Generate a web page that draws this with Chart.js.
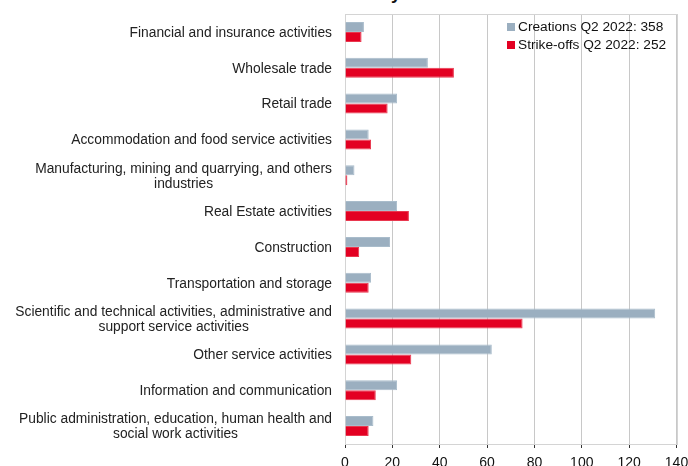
<!DOCTYPE html>
<html>
<head>
<meta charset="utf-8">
<script src="https://cdn.jsdelivr.net/npm/chart.js@4"></script>
<style>
    html, body { margin: 0; padding: 0; background: #fff; overflow: hidden; }
    #wrap { position: relative; width: 688px; height: 466px; }
    #title {
        position: absolute; left: 5px; top: -16px; margin: 0;
        font: bold 18px "Liberation Sans", Arial, sans-serif; line-height: 18px;
        color: #111; white-space: nowrap;
    }
    canvas { position: absolute; left: 0; top: 0; }
</style>
</head>
<body>
<div id="wrap">
    <div id="title">Creations and strike-offs of establishments by NACE</div>
    <canvas id="nace-chart" width="688" height="466"></canvas>
</div>
<script>
// Categories (multi-line labels as arrays)
const sectors = [
    ["Financial and insurance activities"],
    ["Wholesale trade"],
    ["Retail trade"],
    ["Accommodation and food service activities"],
    ["Manufacturing, mining and quarrying, and others", "industries"],
    ["Real Estate activities"],
    ["Construction"],
    ["Transportation and storage"],
    ["Scientific and technical activities, administrative and", "support service activities"],
    ["Other service activities"],
    ["Information and communication"],
    ["Public administration, education, human health and", "social work activities"],
];

// Series values
const creations = [8, 35, 22, 10, 4, 22, 19, 11, 131, 62, 22, 12];
const strikeOffs = [7, 46, 18, 11, 1, 27, 6, 10, 75, 28, 13, 10];

// Legend labels
const creationsLabel = "Creations Q2 2022: 358";
const strikeOffsLabel = "Strike-offs Q2 2022: 252";

// X axis ticks
const xMin = 0;
const xMax = 140;
const xStep = 20;

const FONT = '"Liberation Sans", Arial, sans-serif';
const BLUE_GREY = "#9bafc0";
const RED = "#e30022";

// Draws the framed plot area
const frame = {
    id: "frame",
    beforeDatasetsDraw(chart) {
        const { ctx, chartArea: a } = chart;
        ctx.save();
        ctx.strokeStyle = "#d4d4d4";
        ctx.lineWidth = 1;
        ctx.strokeRect(Math.round(a.left) + 0.5, Math.round(a.top) + 0.5,
            Math.round(a.right - a.left), Math.round(a.bottom - a.top));
        ctx.restore();
    },
};

// Category labels: lines centered to each other, block right aligned
const sectorLabels = {
    id: "sectorLabels",
    afterDraw(chart) {
        const { ctx } = chart;
        const y = chart.scales.y;
        const rightEdge = chart.chartArea.left - 13;
        ctx.save();
        ctx.font = "13.8px " + FONT;
        ctx.fillStyle = "#222";
        ctx.textAlign = "center";
        ctx.textBaseline = "middle";
        sectors.forEach((lines, i) => {
            const cy = y.getPixelForTick(i) + 1;
            const w = Math.max(...lines.map((l) => ctx.measureText(l).width));
            const cx = rightEdge - w / 2;
            const lh = 15;
            const y0 = cy - ((lines.length - 1) * lh) / 2;
            lines.forEach((l, k) => ctx.fillText(l, cx, y0 + k * lh));
        });
        ctx.restore();
    },
};

// Legend inside the plot, top right
const innerLegend = {
    id: "innerLegend",
    afterDraw(chart) {
        const { ctx } = chart;
        const items = [
            { text: creationsLabel, color: BLUE_GREY, y: 27 },
            { text: strikeOffsLabel, color: RED, y: 45 },
        ];
        ctx.save();
        ctx.font = "13.7px " + FONT;
        ctx.textBaseline = "middle";
        ctx.textAlign = "left";
        items.forEach((it) => {
            ctx.fillStyle = it.color;
            ctx.fillRect(507, it.y - 4, 8, 8);
            ctx.fillStyle = "#111";
            ctx.fillText(it.text, 518, it.y + 0.5);
        });
        ctx.restore();
    },
};

const ctx = document.getElementById("nace-chart").getContext("2d");

new Chart(ctx, {
    type: "bar",
    data: {
        labels: sectors,
        datasets: [
            {
                label: creationsLabel,
                data: creations,
                backgroundColor: BLUE_GREY,
                borderColor: "#a9bccb",
                borderWidth: 1,
                barPercentage: 1,
                categoryPercentage: 0.56,
            },
            {
                label: strikeOffsLabel,
                data: strikeOffs,
                backgroundColor: RED,
                borderColor: "#e9384f",
                borderWidth: 1,
                barPercentage: 1,
                categoryPercentage: 0.56,
            },
        ],
    },
    options: {
        indexAxis: "y",
        responsive: false,
        animation: false,
        layout: { padding: { top: 14, right: 0, left: 0, bottom: 0 } },
        plugins: {
            legend: { display: false },
            tooltip: { enabled: false },
        },
        scales: {
            x: {
                min: xMin,
                max: xMax,
                ticks: {
                    stepSize: xStep,
                    color: "#111",
                    padding: 7,
                    font: { family: FONT, size: 14 },
                },
                grid: {
                    color: "#c8c8c8",
                    tickColor: "#333",
                    tickLength: 4,
                    drawOnChartArea: true,
                },
                border: { color: "#333", width: 1 },
                afterFit(scale) {
                    scale.height = 22;
                    scale.paddingRight = 11.5;
                },
            },
            y: {
                ticks: { display: false },
                grid: { display: false, drawTicks: false },
                border: { color: "#d4d4d4" },
                afterFit(scale) { scale.width = 345; },
            },
        },
    },
    plugins: [frame, sectorLabels, innerLegend],
});
</script>
</body>
</html>
